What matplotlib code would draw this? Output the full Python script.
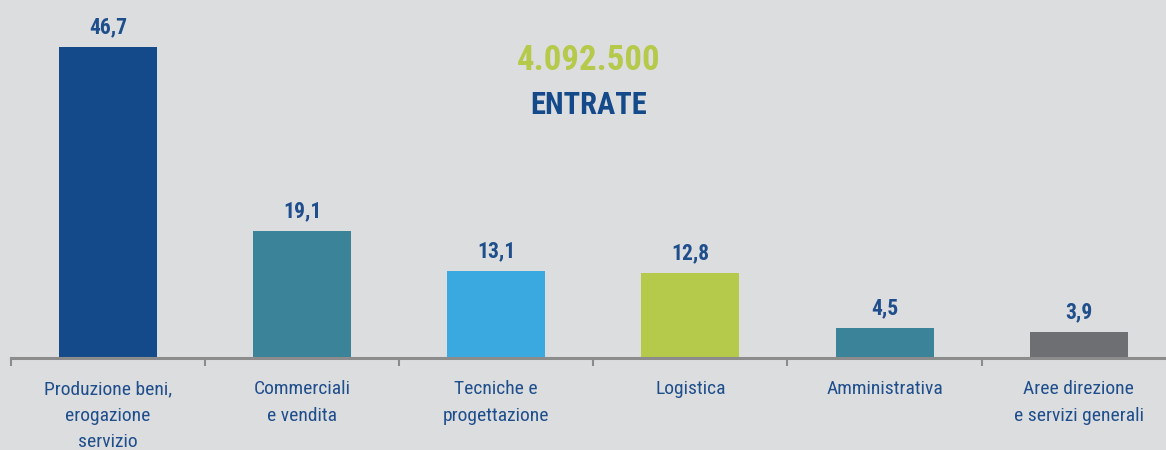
import matplotlib
matplotlib.use("Agg")
import matplotlib.pyplot as plt
from matplotlib import font_manager

categories = ["Produzione beni,\nerogazione\nservizio", "Commerciali\ne vendita",
              "Tecniche e\nprogettazione", "Logistica", "Amministrativa",
              "Aree direzione\ne servizi generali"]
values = [46.7, 19.1, 13.1, 12.8, 4.5, 3.9]
value_labels = ["46,7", "19,1", "13,1", "12,8", "4,5", "3,9"]
colors = ["#154a8a", "#3a8399", "#3aa9e0", "#b5c94a", "#3a8399", "#6e6f73"]
total_label = "4.092.500"
subtitle = "ENTRATE"

names = {f.name for f in font_manager.fontManager.ttflist}
fam = [n for n in ["Roboto Condensed", "Liberation Sans Narrow", "DejaVu Sans"] if n in names]
plt.rcParams['font.family'] = fam

bg = "#dcdddf"
txt = "#1f4e8c"
fig = plt.figure(figsize=(11.66, 4.5), dpi=100, facecolor=bg)
ax = fig.add_axes([11/1166, 92/450, 1155/1166, 358/450])
ax.set_facecolor(bg)
x = list(range(len(values)))
ax.bar(x, values, width=0.505, color=colors)
for xi, v, lab in zip(x, values, value_labels):
    ax.text(xi, v + 2.0, lab, ha="center", va="baseline", fontsize=15.5, fontweight="bold", color=txt)
ax.set_xlim(-0.5, 5.45)
ax.set_ylim(0, 53.75)
for s in ["top", "right", "left"]:
    ax.spines[s].set_visible(False)
ax.spines["bottom"].set_color("#8c8c8c")
ax.spines["bottom"].set_linewidth(2.2)
ax.set_yticks([])
ax.set_xticks([i - 0.5 for i in range(len(values))])
ax.set_xticklabels([])
ax.tick_params(axis="x", length=6, width=1.5, color="#8c8c8c")
ax.set_xticks(x, minor=True)
ax.set_xticklabels(categories, minor=True, fontsize=14, color=txt, linespacing=1.6)
ax.tick_params(axis="x", which="minor", length=0, pad=16)
fig.text(589/1166, 1 - 61/450, total_label, ha="center", va="center", fontsize=25,
         fontweight="bold", color="#b5c94a")
fig.text(589/1166, 1 - 105/450, subtitle, ha="center", va="center", fontsize=22,
         fontweight="bold", color="#154a8a")
fig.savefig("out.png", dpi=100, facecolor=bg)
